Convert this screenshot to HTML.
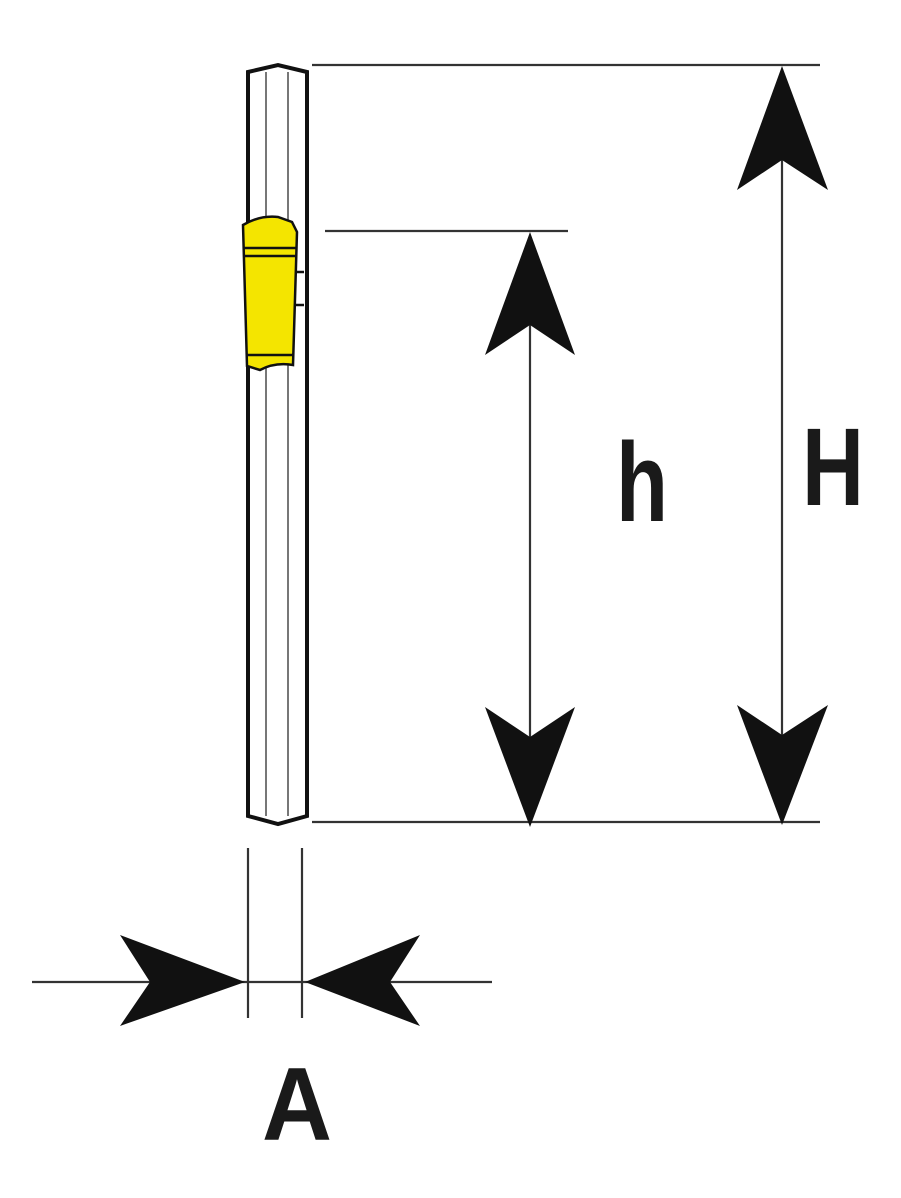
<!DOCTYPE html>
<html><head><meta charset="utf-8"><style>html,body{margin:0;padding:0;background:#fff}svg{display:block}</style></head>
<body>
<svg width="901" height="1198" viewBox="0 0 901 1198" xmlns="http://www.w3.org/2000/svg">
<g stroke="#333" stroke-width="2.2" fill="none">
<line x1="312" y1="65" x2="820" y2="65"/>
<line x1="325" y1="231" x2="568" y2="231"/>
<line x1="312" y1="822" x2="820" y2="822"/>
<line x1="530" y1="240" x2="530" y2="815"/>
<line x1="782" y1="75" x2="782" y2="815"/>
<line x1="248" y1="848" x2="248" y2="1018"/>
<line x1="302" y1="848" x2="302" y2="1018"/>
<line x1="32" y1="982" x2="492" y2="982"/>
</g>
<g stroke="#111" fill="#fff">
<path d="M248,72 L278,65 L307,72 L307,816 L278,824 L248,816 Z" stroke-width="4"/>
<line x1="266" y1="72" x2="266" y2="816" stroke="#777" stroke-width="2"/>
<line x1="288" y1="72" x2="288" y2="816" stroke="#777" stroke-width="2"/>
</g>
<g stroke="#111" stroke-width="2.5">
<path d="M243,225 Q260,215 278,217 L292,222 L297,232 L293,365 Q275,362 260,370 L247,366 Z" fill="#f4e500"/>
<line x1="244" y1="248" x2="296" y2="248"/>
<line x1="244" y1="256" x2="296" y2="256"/>
<line x1="246" y1="355" x2="294" y2="355"/>
<line x1="296" y1="272" x2="304" y2="272"/>
<line x1="296" y1="305" x2="304" y2="305"/>
</g>
<g fill="#111">
<polygon points="530,232 575,355 530,325 485,355"/>
<polygon points="530,827 575,707 530,737 485,707"/>
<polygon points="782,66 828,190 782,160 737,190"/>
<polygon points="782,825 828,705 782,735 737,705"/>
<polygon points="245,982 120,935 150,982 120,1026"/>
<polygon points="305,982 420,935 390,982 420,1026"/>
</g>
<g font-family="Liberation Sans, sans-serif" font-weight="bold" fill="#1a1a1a">
<text x="616" y="521" font-size="112" textLength="52" lengthAdjust="spacingAndGlyphs">h</text>
<text x="802" y="505" font-size="110" textLength="62" lengthAdjust="spacingAndGlyphs">H</text>
<text x="262" y="1140" font-size="104" textLength="70" lengthAdjust="spacingAndGlyphs">A</text>
</g>
</svg>
</body></html>
